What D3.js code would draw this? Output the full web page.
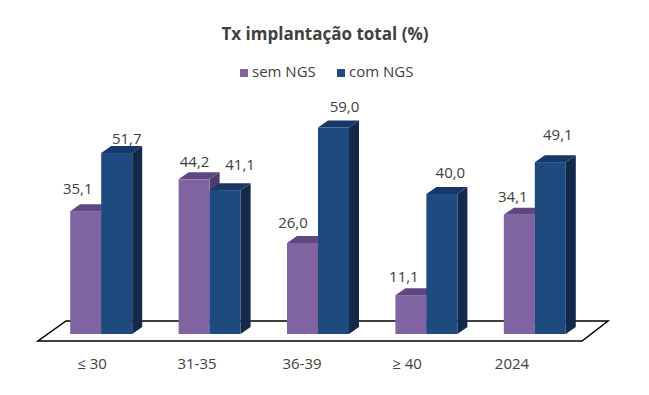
<!DOCTYPE html>
<html>
<head>
<meta charset="utf-8">
<script src="https://cdn.jsdelivr.net/npm/d3@7"></script>
<style>
  body { margin: 0; background: #fff; }
  text { font-family: "Open Sans", sans-serif; fill: #404040; }
</style>
</head>
<body>
<div id="container"></div>
<script>
/* DATA */
const categories = ["≤ 30", "31-35", "36-39", "≥ 40", "2024"]
const seriesNames = ["sem NGS", "com NGS"]
const semNGS = [35.1, 44.2, 26.0, 11.1, 34.1]
const comNGS = [51.7, 41.1, 59.0, 40.0, 49.1]

/* CONSTANTS */
const width = 649, height = 395
const depth = {dx: 10, dy: -7}
const colors = {
  "sem NGS": {front: "#8064a2", top: "#5f4880", side: "#4f3b6c"},
  "com NGS": {front: "#1f4a80", top: "#173866", side: "#14294a"}
}
// label nudges (dx from bar centre, gap above bar top), as placed in the original
const labelNudge = {
  "sem NGS": [[-8, 17], [0.5, 12], [-9.5, 15], [-7, 13], [-6.5, 13]],
  "com NGS": [[10, 9], [15, 20], [11, 16], [8.5, 16], [7.5, 22]]
}

const data = categories.map((c, i) => ({cat: c, values: [
  {key: "sem NGS", value: semNGS[i], i: i},
  {key: "com NGS", value: comNGS[i], i: i}
]}))

/* SCALES */
const xScale = d3.scaleBand()
  .domain(categories)
  .range([47, 589])

const xSub = d3.scaleBand()
  .domain(seriesNames)
  .range([0, 62])

const xLabel = d3.scalePoint()
  .domain(categories)
  .range([92, 512])

const yScale = d3.scaleLinear()
  .domain([0, 60])
  .range([334, 124])

const svg = d3.select("#container")
  .append("svg")
  .attr("width", width)
  .attr("height", height)

// title
svg.append("text")
  .attr("x", 325)
  .attr("y", 40)
  .attr("text-anchor", "middle")
  .style("font-size", "17px")
  .style("font-weight", "bold")
  .text("Tx implantação total (%)")

// legend
const legend = svg.append("g")
  .selectAll("g")
  .data(seriesNames)
  .join("g")
  .attr("transform", (d, i) => `translate(${240 + i * 97}, 0)`)

legend.append("rect")
  .attr("x", 0).attr("y", 69)
  .attr("width", 8).attr("height", 8)
  .attr("fill", d => colors[d].front)

legend.append("text")
  .attr("x", 12).attr("y", 77)
  .style("font-size", "15px")
  .text(d => d)

// floor
const y0 = yScale(0)
const floor = [
  [66, y0 - 13], [608, y0 - 13], [582, y0 + 7], [38, y0 + 7]
]
svg.append("path")
  .attr("d", d3.line()(floor) + "Z")
  .attr("fill", "#fff")
  .attr("stroke", "#000")
  .attr("stroke-width", 1.5)

// bars
const groups = svg.append("g")
  .selectAll("g")
  .data(data)
  .join("g")
  .attr("transform", d => `translate(${xScale(d.cat) + (xScale.bandwidth() - 62) / 2}, 0)`)

const bars = groups.selectAll("g.bar")
  .data(d => d.values)
  .join("g")
  .attr("class", "bar")

bars.each(function(d) {
  const g = d3.select(this)
  const x = xSub(d.key), w = xSub.bandwidth()
  const yt = yScale(d.value), yb = yScale(0)
  const c = colors[d.key]
  // side
  g.append("path")
    .attr("d", d3.line()([[x + w, yt], [x + w + depth.dx, yt + depth.dy], [x + w + depth.dx, yb + depth.dy], [x + w, yb]]) + "Z")
    .attr("fill", c.side)
  // top
  g.append("path")
    .attr("d", d3.line()([[x, yt], [x + depth.dx, yt + depth.dy], [x + w + depth.dx, yt + depth.dy], [x + w, yt]]) + "Z")
    .attr("fill", c.top)
  // front
  g.append("rect")
    .attr("x", x).attr("y", yt)
    .attr("width", w).attr("height", yb - yt)
    .attr("fill", c.front)
})

// value labels drawn above all bars
bars.append("text")
  .attr("x", d => xSub(d.key) + xSub.bandwidth() / 2 + labelNudge[d.key][d.i][0])
  .attr("y", d => yScale(d.value) - labelNudge[d.key][d.i][1])
  .attr("text-anchor", "middle")
  .style("font-size", "15px")
  .text(d => d3.format(".1f")(d.value).replace(".", ","))

// category labels
svg.append("g")
  .selectAll("text")
  .data(categories)
  .join("text")
  .attr("x", d => xLabel(d))
  .attr("y", 369)
  .attr("text-anchor", "middle")
  .style("font-size", "15px")
  .text(d => d)
</script>
</body>
</html>
